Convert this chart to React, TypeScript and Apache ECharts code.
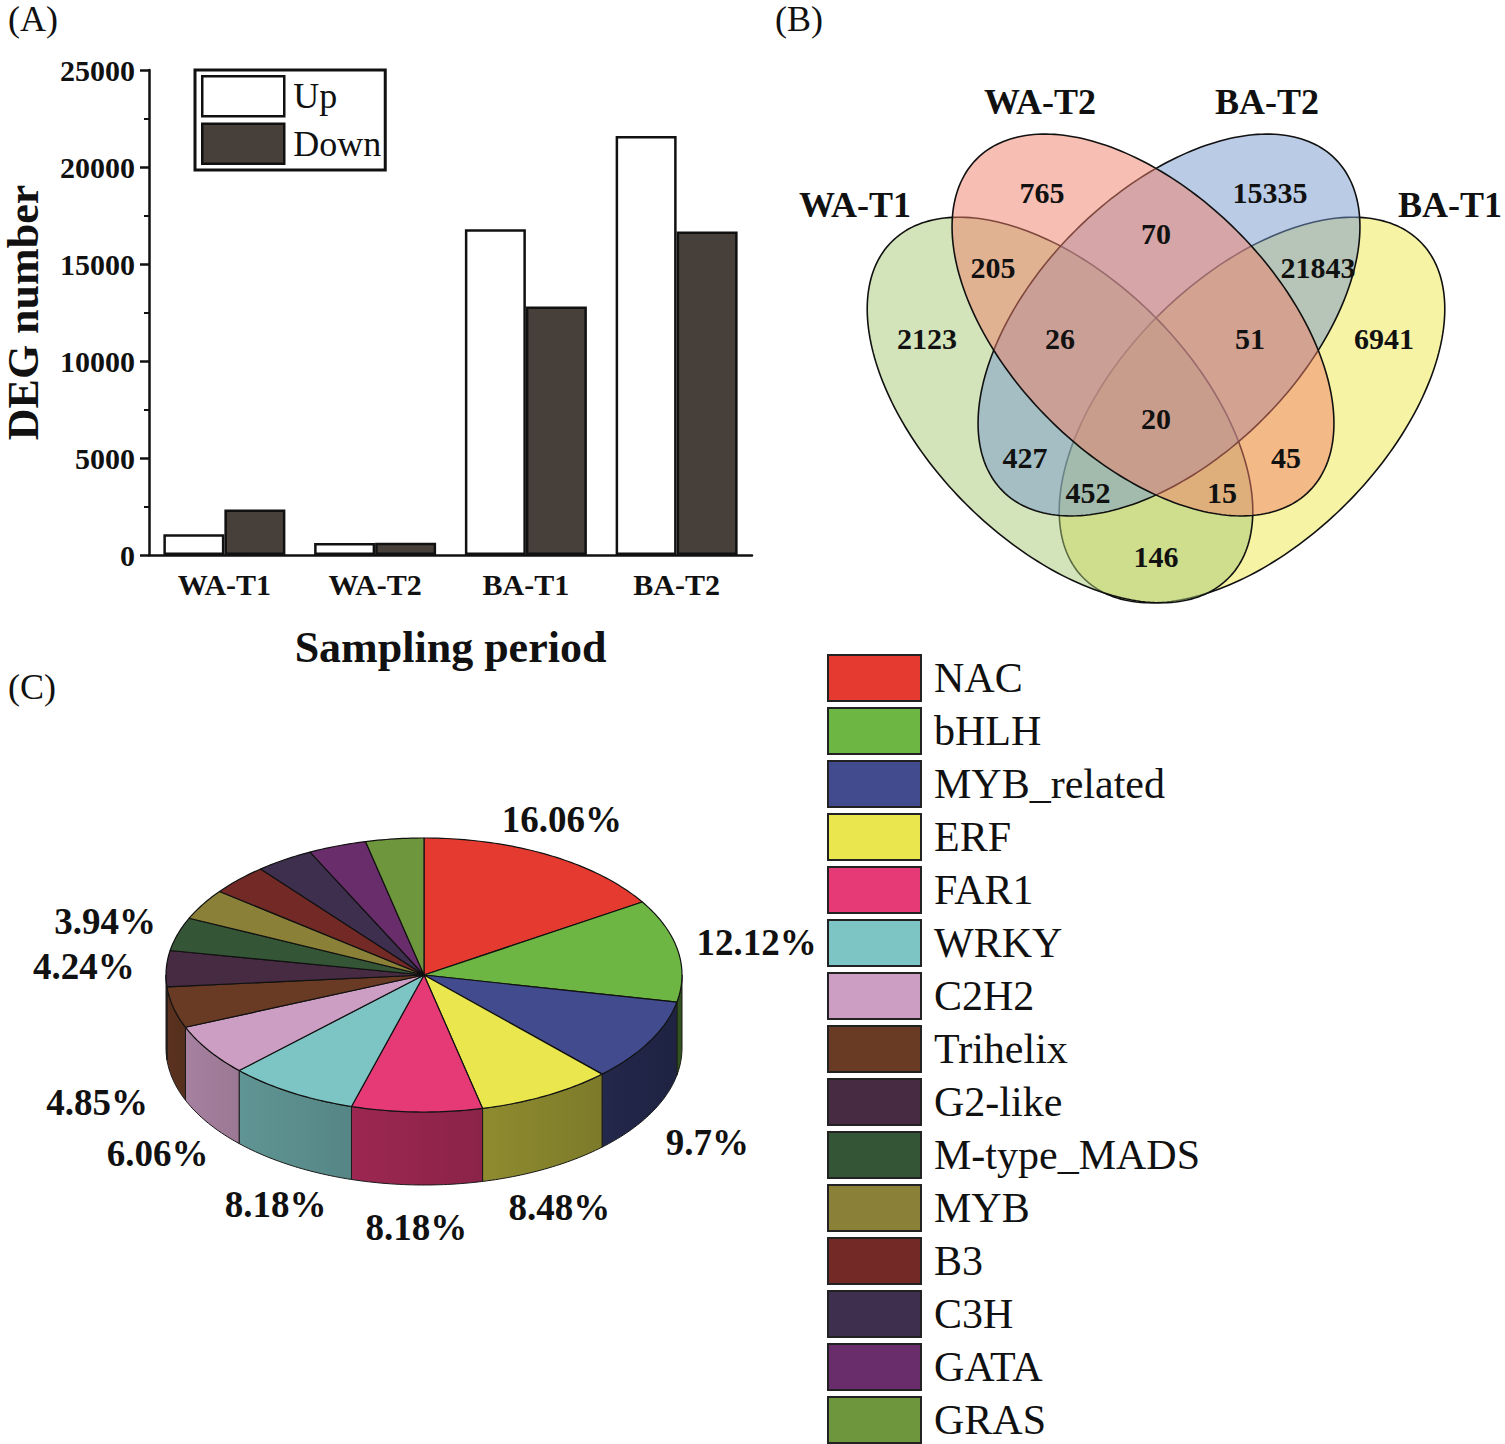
import React, { useEffect, useRef } from 'react';
import * as echarts from 'echarts';

// ---------- data ----------
const BAR_CATEGORIES = ['WA-T1', 'WA-T2', 'BA-T1', 'BA-T2'];
const UP_VALUES = [1070, 620, 16790, 21600];
const DOWN_VALUES = [2350, 630, 12810, 16680];
const Y_MAX = 25000;
const Y_INTERVAL = 5000;

const VENN_SETS = ['WA-T1', 'WA-T2', 'BA-T2', 'BA-T1'];
const VENN_REGION_KEYS = ['B', 'C', 'BC', 'AB', 'CD', 'A', 'ABC', 'BCD', 'D', 'ABCD', 'AC', 'BD', 'ACD', 'ABD', 'AD'];
const VENN_REGION_COUNTS = [765, 15335, 70, 205, 21843, 2123, 26, 51, 6941, 20, 427, 45, 452, 15, 146];

const TF_FAMILIES = ['NAC', 'bHLH', 'MYB_related', 'ERF', 'FAR1', 'WRKY', 'C2H2', 'Trihelix', 'G2-like', 'M-type_MADS', 'MYB', 'B3', 'C3H', 'GATA', 'GRAS'];
const TF_PERCENT = [16.06, 12.12, 9.7, 8.48, 8.18, 8.18, 6.06, 4.85, 4.24, 3.94, 3.64, 3.64, 3.64, 3.64, 3.64];
const TF_LABEL_SHOWN = [true, true, true, true, true, true, true, true, true, true, false, false, false, false, false];

// ---------- styles / layout ----------
const SERIF = '"Liberation Serif", "Times New Roman", Times, serif';
const TF_COLORS = ['#E53A2F', '#6DB644', '#414B8E', '#EAE64E', '#E63A77', '#7DC5C4', '#CD9EC4', '#693A24', '#472B42', '#355636', '#8A8038', '#732A26', '#3E2F4F', '#6A2D6C', '#6E963C'];

const VENN_FILLS = ['rgba(167,201,117,0.5)', 'rgba(239,127,105,0.5)', 'rgba(117,151,203,0.5)', 'rgba(239,231,75,0.5)'];
// ellipse geometry per set (A, B, C, D): centre, semi-axes, tilt (deg, clockwise on screen)
const VENN_ELLIPSES = [
  { cx: 1060, cy: 410, a: 238, b: 133, tilt: 45 },
  { cx: 1143, cy: 325, a: 235, b: 133, tilt: 45 },
  { cx: 1169, cy: 325, a: 235, b: 133, tilt: -45 },
  { cx: 1252, cy: 410, a: 238, b: 133, tilt: -45 },
];
const VENN_DRAW_ORDER = [3, 0, 2, 1];
const VENN_SET_LABEL_POS = [[855, 205], [1040, 102], [1267, 102], [1450, 205]];
const VENN_LABEL_POS: Record<string, number[]> = {
  B: [1042, 192], C: [1270, 192], BC: [1156, 233], AB: [993, 267], CD: [1318, 267],
  A: [927, 338], ABC: [1060, 338], BCD: [1250, 338], D: [1384, 338], ABCD: [1156, 418],
  AC: [1025, 457], BD: [1286, 457], ACD: [1088, 492], ABD: [1222, 492], AD: [1156, 556],
};

const PIE = { cx: 424, cy: 975, rx: 258, ry: 137, depth: 73 };

const PIE_TOTAL = TF_PERCENT.reduce((s, v) => s + v, 0);
const PIE_CUM = TF_PERCENT.map((_, i) => TF_PERCENT.slice(0, i).reduce((s, v) => s + v, 0));

function shade(hex: string, f: number) {
  const n = parseInt(hex.slice(1), 16);
  const r = Math.round(((n >> 16) & 255) * f);
  const g = Math.round(((n >> 8) & 255) * f);
  const b = Math.round((n & 255) * f);
  return `rgb(${r},${g},${b})`;
}
function shadeFactor(theta: number) {
  const t = Math.min(1, Math.max(0, (theta - 90) / 180));
  return 0.45 + 0.43 * Math.pow(t, 1.2);
}
function piePt(theta: number, dy = 0) {
  const r = (theta * Math.PI) / 180;
  return [PIE.cx + PIE.rx * Math.sin(r), PIE.cy - PIE.ry * Math.cos(r) + dy];
}
function arcPts(a0: number, a1: number, dy = 0) {
  const n = Math.max(2, Math.ceil(Math.abs(a1 - a0)));
  const pts: number[][] = [];
  for (let k = 0; k <= n; k++) pts.push(piePt(a0 + ((a1 - a0) * k) / n, dy));
  return pts;
}

function makePieRender(idx: number) {
  return (_params: any, api: any) => {
    const v = api.value(0);
    const start = (PIE_CUM[idx] / PIE_TOTAL) * 360;
    const end = start + (v / PIE_TOTAL) * 360;
    const color = TF_COLORS[idx];
    const children: any[] = [];
    const s = Math.max(start, 90);
    const e = Math.min(end, 270);
    if (s < e) {
      const top = arcPts(s, e, 0);
      const bottom = arcPts(s, e, PIE.depth).reverse();
      const xs = piePt(s)[0];
      const xe = piePt(e)[0];
      const grad = new echarts.graphic.LinearGradient(
        xe, 0, xs + (xs === xe ? 1 : 0), 0,
        [
          { offset: 0, color: shade(color, shadeFactor(e)) },
          { offset: 1, color: shade(color, shadeFactor(s)) },
        ],
        true
      );
      children.push({
        type: 'polygon',
        shape: { points: top.concat(bottom) },
        style: { fill: grad, stroke: '#1a1a1a', lineWidth: 1 },
      });
    }
    children.push({
      type: 'polygon',
      shape: { points: [[PIE.cx, PIE.cy]].concat(arcPts(start, end, 0)) },
      style: { fill: color, stroke: '#111', lineWidth: 1.2, lineJoin: 'round' },
    });
    if (TF_LABEL_SHOWN[idx]) {
      const mid = ((start + end) / 2) * Math.PI / 180;
      const c = Math.cos(mid);
      const sn = Math.sin(mid);
      const k = 1.04 + 0.28 * sn * sn;
      const lx = PIE.cx + PIE.rx * k * sn;
      const ly = c >= 0
        ? PIE.cy - PIE.ry * 1.3 * c
        : PIE.cy - PIE.ry * 1.2 * c + PIE.depth * 1.1 + 8;
      children.push({
        type: 'text',
        style: {
          text: `${v}%`, x: lx, y: ly, fill: '#111',
          fontSize: 37, fontWeight: 'bold', fontFamily: SERIF,
          align: 'center', verticalAlign: 'middle',
        },
      });
    }
    return { type: 'group', children };
  };
}

function ellipsePts(e: { cx: number; cy: number; a: number; b: number; tilt: number }) {
  const phi = (e.tilt * Math.PI) / 180;
  const pts: number[][] = [];
  for (let k = 0; k < 240; k++) {
    const t = (k / 240) * Math.PI * 2;
    const ca = e.a * Math.cos(t);
    const sb = e.b * Math.sin(t);
    pts.push([e.cx + ca * Math.cos(phi) - sb * Math.sin(phi), e.cy + ca * Math.sin(phi) + sb * Math.cos(phi)]);
  }
  return pts;
}

function buildOption() {
  const pieSeries = TF_FAMILIES.map((name, i) => ({
    type: 'custom',
    name,
    coordinateSystem: 'none',
    silent: true,
    itemStyle: { color: TF_COLORS[i] },
    data: [[TF_PERCENT[i]]],
    renderItem: makePieRender(i),
  }));

  return {
    animation: false,
    backgroundColor: '#ffffff',
    textStyle: { fontFamily: SERIF },
    graphic: [
      { type: 'text', left: 8, top: 1, style: { text: '(A)', fontSize: 36, fontFamily: SERIF, fill: '#111' } },
      { type: 'text', left: 775, top: 1, style: { text: '(B)', fontSize: 36, fontFamily: SERIF, fill: '#111' } },
      { type: 'text', left: 8, top: 669, style: { text: '(C)', fontSize: 36, fontFamily: SERIF, fill: '#111' } },
    ],
    legend: [
      {
        data: [
          { name: 'Up', itemStyle: { color: '#ffffff', borderColor: '#111', borderWidth: 2.5 } },
          { name: 'Down', itemStyle: { color: '#463F3A', borderColor: '#111', borderWidth: 2.5 } },
        ],
        orient: 'vertical',
        left: 195,
        top: 70,
        icon: 'rect',
        itemWidth: 82,
        itemHeight: 40,
        itemGap: 5,
        padding: [5, 4, 5, 6],
        borderColor: '#111',
        borderWidth: 3,
        selectedMode: false,
        textStyle: { fontSize: 36, fontFamily: SERIF, color: '#111', lineHeight: 40, padding: [0, 0, 0, 4] },
      },
      {
        data: TF_FAMILIES.map((name, i) => ({
          name,
          itemStyle: { color: TF_COLORS[i], borderColor: '#222', borderWidth: 2 },
        })),
        orient: 'vertical',
        left: 827,
        top: 654,
        height: 790,
        icon: 'rect',
        itemWidth: 93,
        itemHeight: 46,
        itemGap: 5,
        padding: 0,
        selectedMode: false,
        textStyle: { fontSize: 42, fontFamily: SERIF, color: '#111', lineHeight: 46, padding: [0, 0, 0, 8] },
      },
    ],
    grid: { left: 148, top: 70, width: 604, height: 485, containLabel: false },
    xAxis: [
      {
        type: 'category',
        data: BAR_CATEGORIES,
        position: 'bottom',
        axisLine: { lineStyle: { color: '#111', width: 2.5 } },
        axisTick: { alignWithLabel: true, length: 9, lineStyle: { color: '#111', width: 2.5 } },
        axisLabel: { fontSize: 30, fontWeight: 'bold', fontFamily: SERIF, color: '#111', margin: 14 },
        name: 'Sampling period',
        nameLocation: 'middle',
        nameGap: 70,
        nameTextStyle: { fontSize: 44, fontWeight: 'bold', fontFamily: SERIF, color: '#111' },
        splitLine: { show: false },
      },
      {
        type: 'category',
        data: BAR_CATEGORIES,
        position: 'bottom',
        axisLine: { show: false },
        axisTick: { length: 5, lineStyle: { color: '#111', width: 2.5 } },
        axisLabel: { show: false },
        splitLine: { show: false },
      },
    ],
    yAxis: {
      type: 'value',
      min: 0,
      max: Y_MAX,
      interval: Y_INTERVAL,
      axisLine: { show: true, lineStyle: { color: '#111', width: 2.5 } },
      axisTick: { show: true, length: 9, lineStyle: { color: '#111', width: 2.5 } },
      minorTick: { show: true, splitNumber: 2, length: 5, lineStyle: { color: '#111', width: 2 } },
      axisLabel: {
        fontSize: 30, fontWeight: 'bold', fontFamily: SERIF, color: '#111', margin: 14,
        formatter: (v: number) => String(v),
      },
      splitLine: { show: false },
      name: 'DEG number',
      nameLocation: 'middle',
      nameGap: 104,
      nameRotate: 90,
      nameTextStyle: { fontSize: 44, fontWeight: 'bold', fontFamily: SERIF, color: '#111' },
    },
    series: [
      {
        type: 'bar',
        name: 'Up',
        data: UP_VALUES,
        barWidth: 61,
        barGap: '0%',
        itemStyle: { color: '#ffffff', borderColor: '#111', borderWidth: 2.5 },
      },
      {
        type: 'bar',
        name: 'Down',
        data: DOWN_VALUES,
        barWidth: 61,
        barGap: '0%',
        itemStyle: { color: '#463F3A', borderColor: '#111', borderWidth: 2.5 },
      },
      {
        type: 'custom',
        name: 'venn-sets',
        coordinateSystem: 'none',
        silent: true,
        data: VENN_DRAW_ORDER.map((i) => [i]),
        renderItem: (_p: any, api: any) => {
          const i = api.value(0);
          const pos = VENN_SET_LABEL_POS[i];
          return {
            type: 'group',
            children: [
              {
                type: 'polygon',
                shape: { points: ellipsePts(VENN_ELLIPSES[i]) },
                style: { fill: VENN_FILLS[i], stroke: '#111', lineWidth: 1.6 },
              },
              {
                type: 'text',
                style: {
                  text: VENN_SETS[i], x: pos[0], y: pos[1], fill: '#111',
                  fontSize: 36, fontWeight: 'bold', fontFamily: SERIF,
                  align: 'center', verticalAlign: 'middle',
                },
              },
            ],
          };
        },
      },
      {
        type: 'custom',
        name: 'venn-counts',
        coordinateSystem: 'none',
        silent: true,
        z: 5,
        data: VENN_REGION_COUNTS.map((c, i) => [i, c]),
        renderItem: (_p: any, api: any) => {
          const i = api.value(0);
          const pos = VENN_LABEL_POS[VENN_REGION_KEYS[i]];
          return {
            type: 'text',
            style: {
              text: String(api.value(1)), x: pos[0], y: pos[1], fill: '#111',
              fontSize: 30, fontWeight: 'bold', fontFamily: SERIF,
              align: 'center', verticalAlign: 'middle',
            },
          };
        },
      },
      ...pieSeries,
    ],
  };
}

export default function App() {
  const ref = useRef<HTMLDivElement>(null);
  useEffect(() => {
    if (!ref.current) return;
    const chart = echarts.init(ref.current, null, { renderer: 'svg' });
    chart.setOption(buildOption() as any);
    return () => chart.dispose();
  }, []);
  return (
    <div
      ref={ref}
      style={{ position: 'absolute', left: 0, top: 0, width: 1505, height: 1444, background: '#fff' }}
    />
  );
}
